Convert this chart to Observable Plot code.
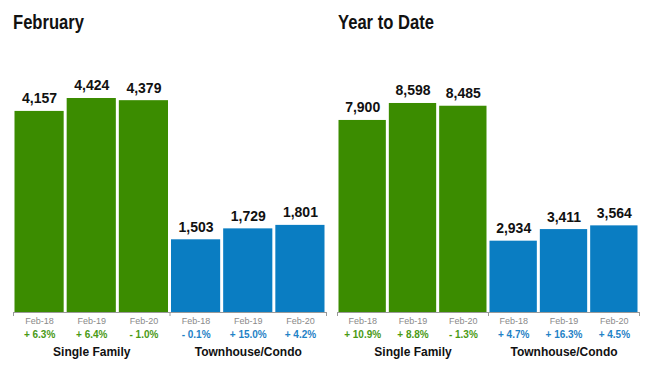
<!DOCTYPE html>
<html>
<head>
<meta charset="utf-8">
<script src="https://cdn.jsdelivr.net/npm/d3@7"></script>
<script src="https://cdn.jsdelivr.net/npm/@observablehq/plot@0.6"></script>
<style>
  html, body { margin: 0; padding: 0; background: #fff; }
  #wrap { position: relative; width: 650px; height: 368px; display: flex; }
  .panel { position: relative; }
  .title { position: absolute; top: 11px; font-family: "Liberation Sans", Arial, sans-serif; font-weight: bold; font-size: 20px; color: #111; transform: scaleX(0.83); transform-origin: left top; white-space: nowrap; }
  svg { display: block; }
</style>
</head>
<body>
<div id="wrap"></div>
<script>
const groups = ["Single Family", "Townhouse/Condo"];
const periods = ["Feb-18", "Feb-19", "Feb-20"];
const febValues = [4157, 4424, 4379, 1503, 1729, 1801];
const febChanges = [6.3, 6.4, -1.0, -0.1, 15.0, 4.2];
const ytdValues = [7900, 8598, 8485, 2934, 3411, 3564];
const ytdChanges = [10.9, 8.8, -1.3, 4.7, 16.3, 4.5];
const titles = ["February", "Year to Date"];

const barColors = ["#3b8c00", "#0a7dc2"];
const textColors = ["#4a9a14", "#1f82c6"];

function rows(values, changes) {
  return values.map((v, i) => ({
    i,
    group: groups[Math.floor(i / 3)],
    g: Math.floor(i / 3),
    period: periods[i % 3],
    value: v,
    change: changes[i]
  }));
}

const fmtChange = c => (c < 0 ? "- " : "+ ") + Math.abs(c).toFixed(1) + "%";

function panel(title, data, width, ml, mr, ymax, titleLeft) {
  const div = document.createElement("div");
  div.className = "panel";
  div.style.width = width + "px";
  const groupRows = groups.map((g, k) => ({group: g, center: k * 3 + 1.5}));
  const chart = Plot.plot({
    width,
    height: 368,
    marginLeft: ml,
    marginRight: mr,
    marginTop: 40,
    marginBottom: 56,
    style: {fontFamily: "'Liberation Sans', Arial, sans-serif", background: "#fff"},
    x: {type: "linear", domain: [0, 6], axis: null, label: null},
    y: {domain: [0, ymax], axis: null, label: null},
    color: {type: "ordinal", domain: [0, 1], range: barColors},
    marks: [
      Plot.rectY(data, {x1: d => d.i, x2: d => d.i + 1, y: d => d.value, fill: d => d.g, insetLeft: 1.5, insetRight: 1.5}),
      Plot.ruleY([0], {stroke: "#9a9a9a", strokeWidth: 1}),
      Plot.axisX([0, 3, 6], {tickSize: 4, tickFormat: () => "", stroke: "#9a9a9a"}),
      Plot.text(data, {x: d => d.i + 0.5, y: d => d.value, text: d => d3.format(",")(d.value), lineAnchor: "bottom", dy: -8, fontSize: 14, fontWeight: "bold", fill: "#111"}),
      Plot.text(data, {x: d => d.i + 0.5, y: 0, text: d => d.period, lineAnchor: "middle", dy: 9, fontSize: 9, fill: "#8a8a8a"}),
      Plot.text(data, {x: d => d.i + 0.5, y: 0, text: d => fmtChange(d.change), lineAnchor: "middle", dy: 22, fontSize: 10, fontWeight: "bold", fill: d => textColors[d.g]}),
      Plot.text(groupRows, {x: d => d.center, y: 0, text: d => d.group, lineAnchor: "middle", dy: 40, fontSize: 12, fontWeight: "bold", fill: "#111"})
    ]
  });
  div.appendChild(chart);
  const t = document.createElement("div");
  t.className = "title";
  t.style.left = titleLeft + "px";
  t.textContent = title;
  div.appendChild(t);
  return div;
}

const wrap = document.getElementById("wrap");
wrap.appendChild(panel(titles[0], rows(febValues, febChanges), 330, 13, 4, 5623, 13));
wrap.appendChild(panel(titles[1], rows(ytdValues, ytdChanges), 320, 7, 11, 11189, 8));
</script>
</body>
</html>
